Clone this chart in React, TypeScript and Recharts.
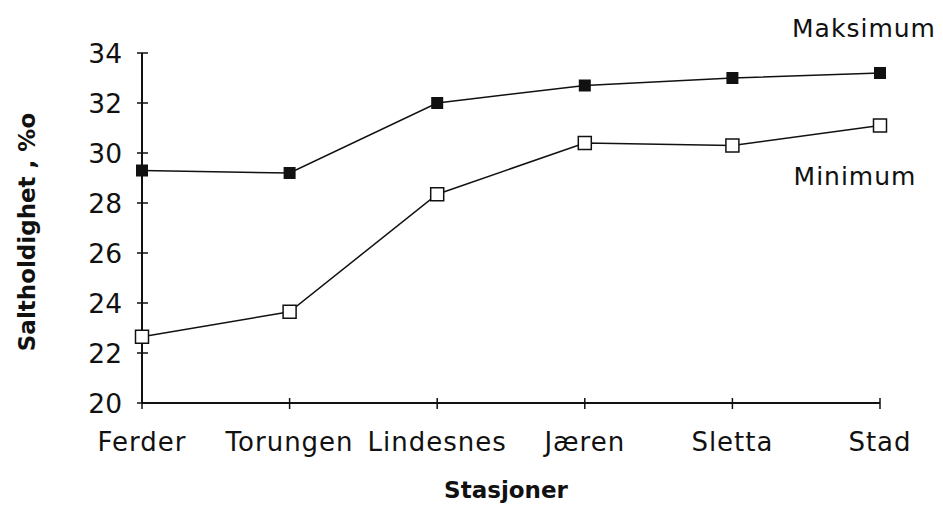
import React from 'react'
import { LineChart, Line, XAxis, YAxis } from 'recharts'

const stations = ['Ferder', 'Torungen', 'Lindesnes', 'Jæren', 'Sletta', 'Stad']
const maksimum = [29.3, 29.2, 32.0, 32.7, 33.0, 33.2]
const minimum = [22.65, 23.65, 28.35, 30.4, 30.3, 31.1]
const yTicks = [20, 22, 24, 26, 28, 30, 32, 34]

const data = stations.map((name, i) => ({
  name,
  max: maksimum[i],
  min: minimum[i],
}))

const font = '"DejaVu Sans", sans-serif'

const YTick = (props: any) => {
  const { x, y, payload } = props
  return (
    <g>
      <line x1={x - 5} x2={x + 6} y1={y} y2={y} stroke="#111" strokeWidth={1.5} />
      <text
        x={x - 20}
        y={y}
        dy={10}
        textAnchor="end"
        fontFamily={font}
        fontSize={26.5}
        fill="#111"
      >
        {payload.value}
      </text>
    </g>
  )
}

const XTick = (props: any) => {
  const { x, y, payload } = props
  return (
    <g>
      <line x1={x} x2={x} y1={y - 5} y2={y + 6} stroke="#111" strokeWidth={1.5} />
      <text
        x={x}
        y={y}
        dy={48}
        textAnchor="middle"
        fontFamily={font}
        fontSize={26}
        letterSpacing={1}
        fill="#111"
      >
        {payload.value}
      </text>
    </g>
  )
}

const FilledSquare = (props: any) => {
  const { cx, cy, index } = props
  return <rect key={index} x={cx - 6} y={cy - 6} width={12} height={12} fill="#111" />
}

const OpenSquare = (props: any) => {
  const { cx, cy, index } = props
  return (
    <rect
      key={index}
      x={cx - 6.5}
      y={cy - 6.5}
      width={13}
      height={13}
      fill="#fff"
      stroke="#111"
      strokeWidth={1.5}
    />
  )
}

const endLabel = (text: string, dx: number, dy: number) => (props: any) => {
  const { x, y, index } = props
  if (index !== stations.length - 1) return null
  return (
    <text
      key={text}
      x={x + dx}
      y={y + dy}
      textAnchor="middle"
      fontFamily={font}
      fontSize={25}
      letterSpacing={1}
      fill="#111"
    >
      {text}
    </text>
  )
}

export default function App() {
  return (
    <div style={{ position: 'absolute', left: 0, top: 0, background: '#fff' }}>
      <LineChart
        width={943}
        height={510}
        data={data}
        margin={{ top: 53, right: 63, bottom: 0, left: 0 }}
      >
        <XAxis
          dataKey="name"
          height={107}
          tickSize={0}
          tickMargin={0}
          tick={<XTick />}
          interval={0}
          axisLine={{ stroke: '#111', strokeWidth: 2 }}
          tickLine={false}
          label={{
            content: (p: any) => {
              const vb = p.viewBox
              return (
                <text
                  x={vb.x + vb.width / 2 - 5}
                  y={vb.y + 95}
                  textAnchor="middle"
                  fontFamily={font}
                  fontSize={23}
                  fontWeight="bold"
                  fill="#111"
                >
                  Stasjoner
                </text>
              )
            },
          }}
        />
        <YAxis
          width={142}
          domain={[20, 34]}
          ticks={yTicks}
          type="number"
          tickSize={0}
          tickMargin={0}
          tick={<YTick />}
          interval={0}
          axisLine={{ stroke: '#111', strokeWidth: 2 }}
          tickLine={false}
          label={{
            content: (p: any) => {
              const vb = p.viewBox
              const cx = 35
              const cy = vb.y + vb.height / 2 + 4
              return (
                <text
                  x={cx}
                  y={cy}
                  transform={`rotate(-90 ${cx} ${cy})`}
                  textAnchor="middle"
                  fontFamily={font}
                  fontSize={23}
                  fontWeight="bold"
                  fill="#111"
                >
                  Saltholdighet , %o
                </text>
              )
            },
          }}
        />
        <Line
          dataKey="max"
          type="linear"
          stroke="#111"
          strokeWidth={1.5}
          dot={<FilledSquare />}
          activeDot={false}
          label={endLabel('Maksimum', -16, -36)}
          isAnimationActive={false}
        />
        <Line
          dataKey="min"
          type="linear"
          stroke="#111"
          strokeWidth={1.5}
          dot={<OpenSquare />}
          activeDot={false}
          label={endLabel('Minimum', -25, 59)}
          isAnimationActive={false}
        />
      </LineChart>
    </div>
  )
}
